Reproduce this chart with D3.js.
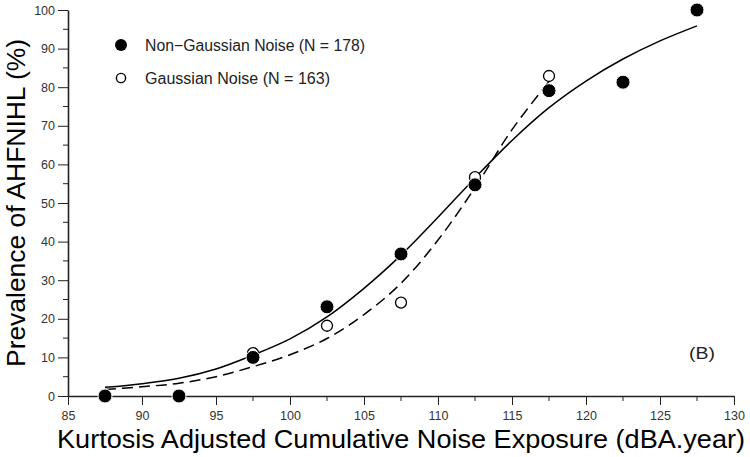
<!DOCTYPE html>
<html><head><meta charset="utf-8">
<script src="https://cdn.jsdelivr.net/npm/d3@7"></script>
<style>html,body{margin:0;padding:0;background:#fff;}svg{display:block;}</style>
</head><body>
<svg id="chart" width="750" height="457"></svg>
<script>
// ---- data ----
const xTickValues = [85, 90, 95, 100, 105, 110, 115, 120, 125, 130];
const yTickValues = [0, 10, 20, 30, 40, 50, 60, 70, 80, 90, 100];
const nonGaussX = [87.5, 92.5, 97.5, 102.5, 107.5, 112.5, 117.5, 122.5, 127.5];
const nonGaussY = [0, 0, 10.0, 23.1, 36.8, 54.7, 79.1, 81.3, 100];
const gaussX = [87.5, 92.5, 97.5, 102.5, 107.5, 112.5, 117.5];
const gaussY = [0, 0, 11.1, 18.2, 24.2, 56.7, 82.9];
// fitted curves
const fitNonGaussX = [87.5, 90, 92.5, 95, 97.5, 100, 102.5, 105, 107.5, 110, 112.5, 115, 117.5, 120, 122.5, 125, 127.5];
const fitNonGaussY = [2.25, 3.2, 4.6, 7.0, 10.6, 14.8, 20.5, 27.9, 36.5, 46.3, 56.5, 66.2, 74.7, 81.6, 87.3, 92.0, 95.9];
const fitGaussX = [87.5, 90, 92.5, 95, 97.5, 100, 102.5, 105, 107.5, 110, 112.5, 115, 117.5];
const fitGaussY = [1.7, 2.4, 3.3, 5.0, 7.6, 10.7, 14.9, 21.1, 29.2, 40.4, 54.0, 69.0, 81.5];
const legendLabels = ["Non\u2212Gaussian Noise (N = 178)", "Gaussian Noise (N = 163)"];

const svg = d3.select("#chart");
const x = d3.scaleLinear().domain([85, 130]).range([68, 734]);
const y = d3.scaleLinear().domain([0, 100]).range([396, 10]);
const axisColor = "#222";
const tickFont = "Liberation Sans, Arial, sans-serif";

// minor ticks
const xMinor = d3.range(87.5, 130, 5);
const yMinor = d3.range(5, 100, 10);

const gx = svg.append("g").attr("transform", "translate(0,396)");
gx.call(d3.axisBottom(x).tickValues(xTickValues).tickSize(9).tickSizeOuter(0).tickPadding(6).tickFormat(d3.format("d")));
gx.append("g").selectAll("line").data(xMinor).join("line")
  .attr("x1", d => x(d)).attr("x2", d => x(d)).attr("y1", 0).attr("y2", 5);
gx.selectAll("line").attr("stroke", axisColor).attr("stroke-width", 1);
gx.select(".domain").attr("stroke", axisColor).attr("stroke-width", 1.6);
gx.selectAll("text").attr("font-family", tickFont).attr("font-size", 12.5).attr("fill", "#333");

const gy = svg.append("g").attr("transform", "translate(68,0)");
gy.call(d3.axisLeft(y).tickValues(yTickValues).tickSize(10).tickSizeOuter(0).tickPadding(3).tickFormat(d3.format("d")));
gy.append("g").selectAll("line").data(yMinor).join("line")
  .attr("y1", d => y(d)).attr("y2", d => y(d)).attr("x1", 0).attr("x2", -5);
gy.selectAll("line").attr("stroke", axisColor).attr("stroke-width", 1);
gy.select(".domain").attr("stroke", axisColor).attr("stroke-width", 1.6);
gy.selectAll("text").attr("font-family", tickFont).attr("font-size", 12.5).attr("fill", "#333");

// curves
const line = d3.line().x(d => x(d[0])).y(d => y(d[1])).curve(d3.curveCatmullRom.alpha(0.5));
svg.append("path").datum(fitNonGaussX.map((v, i) => [v, fitNonGaussY[i]]))
  .attr("d", line).attr("fill", "none").attr("stroke", "#000").attr("stroke-width", 1.5);
svg.append("path").datum(fitGaussX.map((v, i) => [v, fitGaussY[i]]))
  .attr("d", line).attr("fill", "none").attr("stroke", "#000").attr("stroke-width", 1.5)
  .attr("stroke-dasharray", "11,6");

// points
svg.append("g").selectAll("circle").data(gaussX.map((v, i) => [v, gaussY[i]])).join("circle")
  .attr("cx", d => x(d[0])).attr("cy", d => y(d[1])).attr("r", 5.5)
  .attr("fill", "#fff").attr("stroke", "#000").attr("stroke-width", 1.3);
svg.append("g").selectAll("circle").data(nonGaussX.map((v, i) => [v, nonGaussY[i]])).join("circle")
  .attr("cx", d => x(d[0])).attr("cy", d => y(d[1])).attr("r", 7)
  .attr("fill", "#000").attr("stroke", "#fff").attr("stroke-width", 1);

// legend
const leg = svg.append("g");
leg.append("circle").attr("cx", 121).attr("cy", 45).attr("r", 6).attr("fill", "#000");
leg.append("circle").attr("cx", 121).attr("cy", 78).attr("r", 4.6).attr("fill", "#fff").attr("stroke", "#000").attr("stroke-width", 1.4);
leg.append("text").attr("x", 145).attr("y", 45).attr("dy", "0.36em").text(legendLabels[0])
  .attr("font-family", tickFont).attr("font-size", 16).attr("fill", "#222")
  .attr("textLength", 220).attr("lengthAdjust", "spacingAndGlyphs");
leg.append("text").attr("x", 145).attr("y", 78).attr("dy", "0.36em").text(legendLabels[1])
  .attr("font-family", tickFont).attr("font-size", 16).attr("fill", "#222")
  .attr("textLength", 185).attr("lengthAdjust", "spacingAndGlyphs");

// (B)
svg.append("text").attr("x", 702).attr("y", 353).attr("dy", "0.36em").attr("text-anchor", "middle")
  .text("(B)").attr("font-family", tickFont).attr("font-size", 17).attr("fill", "#222")
  .attr("textLength", 26).attr("lengthAdjust", "spacingAndGlyphs");

// axis titles
svg.append("text").attr("x", 57).attr("y", 448).text("Kurtosis Adjusted Cumulative Noise Exposure (dBA.year)")
  .attr("font-family", tickFont).attr("font-size", 25).attr("fill", "#000")
  .attr("textLength", 688).attr("lengthAdjust", "spacingAndGlyphs");
svg.append("text").attr("transform", "translate(25,367) rotate(-90)").attr("x", 0).attr("y", 0)
  .text("Prevalence of AHFNIHL (%)")
  .attr("font-family", tickFont).attr("font-size", 26).attr("fill", "#000")
  .attr("textLength", 328).attr("lengthAdjust", "spacingAndGlyphs");
</script>
</body></html>
